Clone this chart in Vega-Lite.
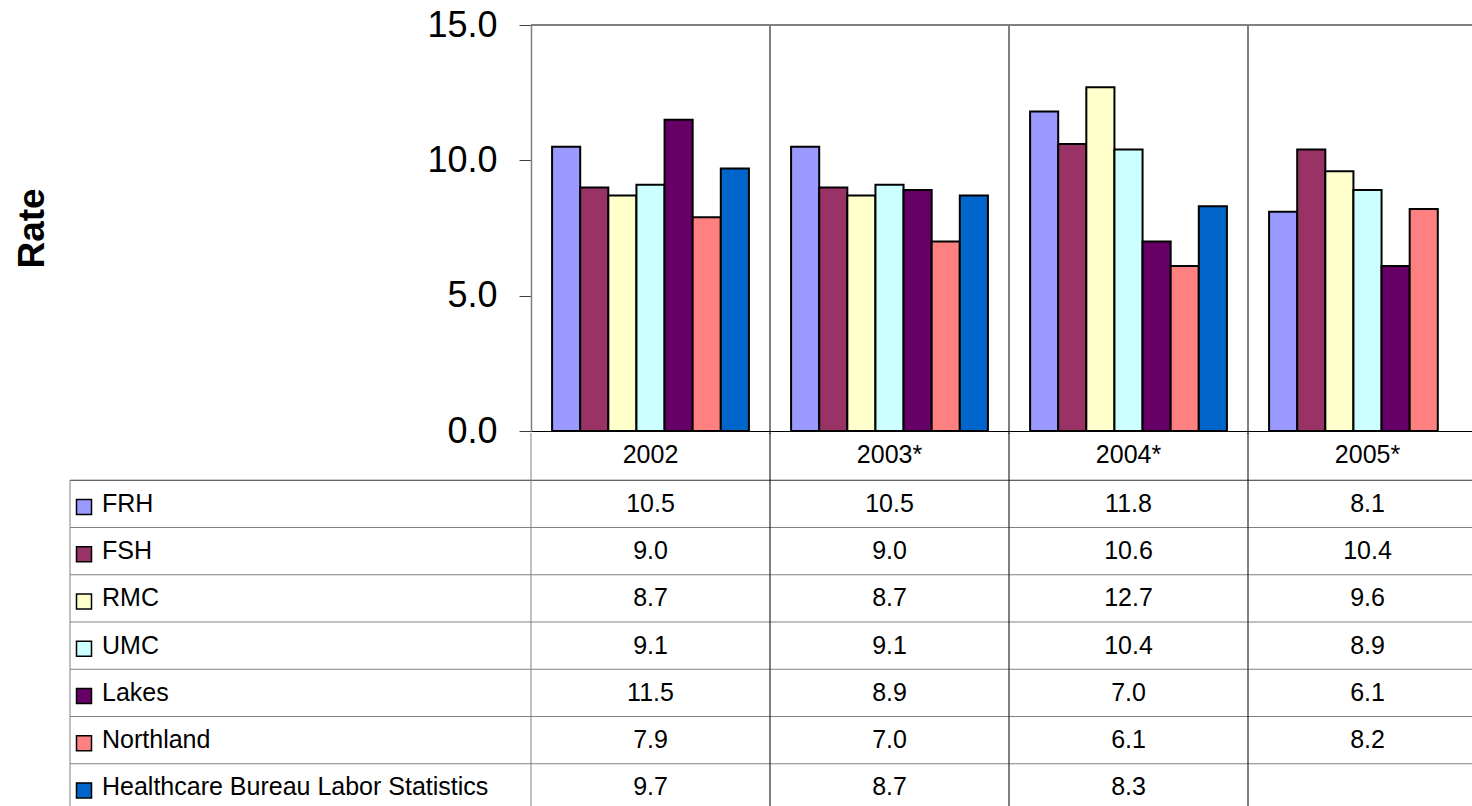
{
  "$schema": "https://vega.github.io/schema/vega-lite/v6.json",
  "autosize": {"type": "none"},
  "padding": {"left": 70, "top": 25, "right": 0, "bottom": 375},
  "width": 1402,
  "height": 406,
  "background": "white",
  "config": {"view": {"stroke": null}, "font": "Liberation Sans"},
  "datasets": {
    "cells": [
      {"year": "2002", "row": "header", "value": null},
      {"year": "2003*", "row": "header", "value": null},
      {"year": "2004*", "row": "header", "value": null},
      {"year": "2005*", "row": "header", "value": null},
      {"year": "2002", "row": "FRH", "value": 10.5},
      {"year": "2003*", "row": "FRH", "value": 10.5},
      {"year": "2004*", "row": "FRH", "value": 11.8},
      {"year": "2005*", "row": "FRH", "value": 8.1},
      {"year": "2002", "row": "FSH", "value": 9.0},
      {"year": "2003*", "row": "FSH", "value": 9.0},
      {"year": "2004*", "row": "FSH", "value": 10.6},
      {"year": "2005*", "row": "FSH", "value": 10.4},
      {"year": "2002", "row": "RMC", "value": 8.7},
      {"year": "2003*", "row": "RMC", "value": 8.7},
      {"year": "2004*", "row": "RMC", "value": 12.7},
      {"year": "2005*", "row": "RMC", "value": 9.6},
      {"year": "2002", "row": "UMC", "value": 9.1},
      {"year": "2003*", "row": "UMC", "value": 9.1},
      {"year": "2004*", "row": "UMC", "value": 10.4},
      {"year": "2005*", "row": "UMC", "value": 8.9},
      {"year": "2002", "row": "Lakes", "value": 11.5},
      {"year": "2003*", "row": "Lakes", "value": 8.9},
      {"year": "2004*", "row": "Lakes", "value": 7.0},
      {"year": "2005*", "row": "Lakes", "value": 6.1},
      {"year": "2002", "row": "Northland", "value": 7.9},
      {"year": "2003*", "row": "Northland", "value": 7.0},
      {"year": "2004*", "row": "Northland", "value": 6.1},
      {"year": "2005*", "row": "Northland", "value": 8.2},
      {"year": "2002", "row": "Healthcare Bureau Labor Statistics", "value": 9.7},
      {"year": "2003*", "row": "Healthcare Bureau Labor Statistics", "value": 8.7},
      {"year": "2004*", "row": "Healthcare Bureau Labor Statistics", "value": 8.3},
      {"year": "2005*", "row": "Healthcare Bureau Labor Statistics", "value": null}
    ]
  },
  "data": {"name": "cells"},
  "layer": [
    {
      "layer": [
        {
          "transform": [{"filter": "datum.row != 'header' && datum.value != null"}],
          "mark": {"type": "bar", "stroke": "black", "strokeWidth": 2},
          "encoding": {
            "x": {
              "field": "year", "type": "nominal",
              "scale": {"type": "band", "domain": ["2002", "2003*", "2004*", "2005*"], "range": [461, 1417], "paddingInner": 0, "paddingOuter": 0},
              "axis": {"title": null, "ticks": false, "tickSize": 0, "domainColor": "black", "domainWidth": 1, "labelFontSize": 25, "labelPadding": 23, "labelBaseline": "middle", "labelColor": "black", "labelAngle": 0, "grid": false, "labelFont": "Liberation Sans"}
            },
            "xOffset": {
              "field": "row", "type": "nominal",
              "scale": {"domain": ["FRH", "FSH", "RMC", "UMC", "Lakes", "Northland", "Healthcare Bureau Labor Statistics"], "paddingInner": 0, "paddingOuter": 0.75}
            },
            "y": {
              "field": "value", "type": "quantitative",
              "scale": {"domain": [0, 15], "nice": false, "zero": true},
              "axis": {"title": "Rate", "offset": -461, "values": [0, 5, 10, 15], "format": ".1f", "labelFontSize": 36, "labelColor": "black", "labelPadding": 22, "tickSize": 12, "tickColor": "#404040", "domainColor": "#808080", "domainWidth": 1.5, "grid": false, "labelFlush": false, "labelFont": "Liberation Sans", "titleFont": "Liberation Sans", "titleFontSize": 37, "titleFontWeight": "bold", "titleColor": "black", "titleX": -488, "titleY": 203, "titleAngle": -90, "titleAlign": "center", "titleBaseline": "alphabetic"}
            },
            "color": {
              "field": "row", "type": "nominal",
              "scale": {"domain": ["FRH", "FSH", "RMC", "UMC", "Lakes", "Northland", "Healthcare Bureau Labor Statistics"], "range": ["#9999FF", "#993366", "#FFFFCC", "#CCFFFF", "#660066", "#FF8080", "#0066CC"]},
              "legend": null
            }
          }
        },
        {
          "transform": [{"filter": "datum.row == 'header' && datum.year != '2002'"}],
          "mark": {"type": "rule", "strokeWidth": 1, "color": "black", "y2Offset": 3},
          "encoding": {
            "x": {"field": "year", "type": "nominal", "bandPosition": 0},
            "y": {"datum": 15},
            "y2": {"datum": 0}
          }
        },
        {
          "transform": [{"filter": "datum.row == 'header'"}],
          "mark": {"type": "rect", "fillOpacity": 0, "stroke": "#808080", "strokeWidth": 2},
          "encoding": {
            "x": {"field": "year", "type": "nominal"},
            "y": {"datum": 15},
            "y2": {"datum": 15}
          }
        }
      ]
    },
    {
      "layer": [
        {
          "transform": [{"filter": "datum.year == '2002' && datum.row != 'header' && datum.row != 'FRH'"}],
          "mark": {"type": "rule", "color": "#808080", "strokeWidth": 1},
          "encoding": {
            "y": {
              "field": "row", "type": "nominal", "bandPosition": 0,
              "scale": {"type": "band", "domain": ["header", "FRH", "FSH", "RMC", "UMC", "Lakes", "Northland", "Healthcare Bureau Labor Statistics"], "range": [408, 786], "paddingInner": 0, "paddingOuter": 0},
              "axis": null
            }
          }
        },
        {
          "transform": [{"filter": "datum.year == '2002' && datum.row == 'FRH'"}],
          "mark": {"type": "rule", "color": "#303030", "strokeWidth": 1},
          "encoding": {
            "y": {"field": "row", "type": "nominal", "bandPosition": 0}
          }
        },
        {
          "mark": {"type": "rule", "strokeWidth": 1},
          "encoding": {
            "x": {
              "field": "year", "type": "nominal", "bandPosition": 0,
              "scale": {"type": "band", "domain": ["2002", "2003*", "2004*", "2005*"], "range": [461, 1417], "paddingInner": 0, "paddingOuter": 0},
              "axis": null
            },
            "y": {"field": "row", "type": "nominal", "bandPosition": 0},
            "y2": {"field": "row", "bandPosition": 1},
            "color": {"condition": {"test": "datum.year == '2002'", "value": "#808080"}, "value": "black"}
          }
        },
        {
          "transform": [{"filter": "datum.row != 'header' && datum.value != null"}],
          "mark": {"type": "text", "fontSize": 25, "font": "Liberation Sans", "color": "black", "baseline": "middle", "align": "center"},
          "encoding": {
            "x": {"field": "year", "type": "nominal"},
            "y": {"field": "row", "type": "nominal"},
            "text": {"field": "value", "type": "quantitative", "format": ".1f"}
          }
        }
      ]
    },
    {
      "transform": [{"filter": "datum.year == '2002' && datum.row != 'header'"}],
      "layer": [
        {
          "mark": {"type": "rule", "color": "#808080", "strokeWidth": 1},
          "encoding": {
            "x": {
              "datum": "label", "type": "nominal", "bandPosition": 0,
              "scale": {"type": "band", "domain": ["label"], "range": [0, 461], "paddingInner": 0, "paddingOuter": 0},
              "axis": null
            },
            "y": {
              "field": "row", "type": "nominal", "bandPosition": 0,
              "scale": {"type": "band", "domain": ["header", "FRH", "FSH", "RMC", "UMC", "Lakes", "Northland", "Healthcare Bureau Labor Statistics"], "range": [408, 786], "paddingInner": 0, "paddingOuter": 0},
              "axis": null
            },
            "y2": {"field": "row", "bandPosition": 1}
          }
        },
        {
          "mark": {"type": "point", "shape": "square", "filled": true, "size": 225, "stroke": "black", "strokeWidth": 1.5, "opacity": 1, "xOffset": 14, "yOffset": 3},
          "encoding": {
            "x": {"datum": "label", "type": "nominal", "bandPosition": 0},
            "y": {"field": "row", "type": "nominal"},
            "color": {"field": "row", "type": "nominal", "legend": null}
          }
        },
        {
          "mark": {"type": "text", "align": "left", "baseline": "middle", "dx": 32, "fontSize": 25, "font": "Liberation Sans", "color": "black"},
          "encoding": {
            "x": {"datum": "label", "type": "nominal", "bandPosition": 0},
            "y": {"field": "row", "type": "nominal"},
            "text": {"field": "row", "type": "nominal"}
          }
        }
      ]
    }
  ],
  "resolve": {"scale": {"x": "independent", "y": "independent"}}
}
